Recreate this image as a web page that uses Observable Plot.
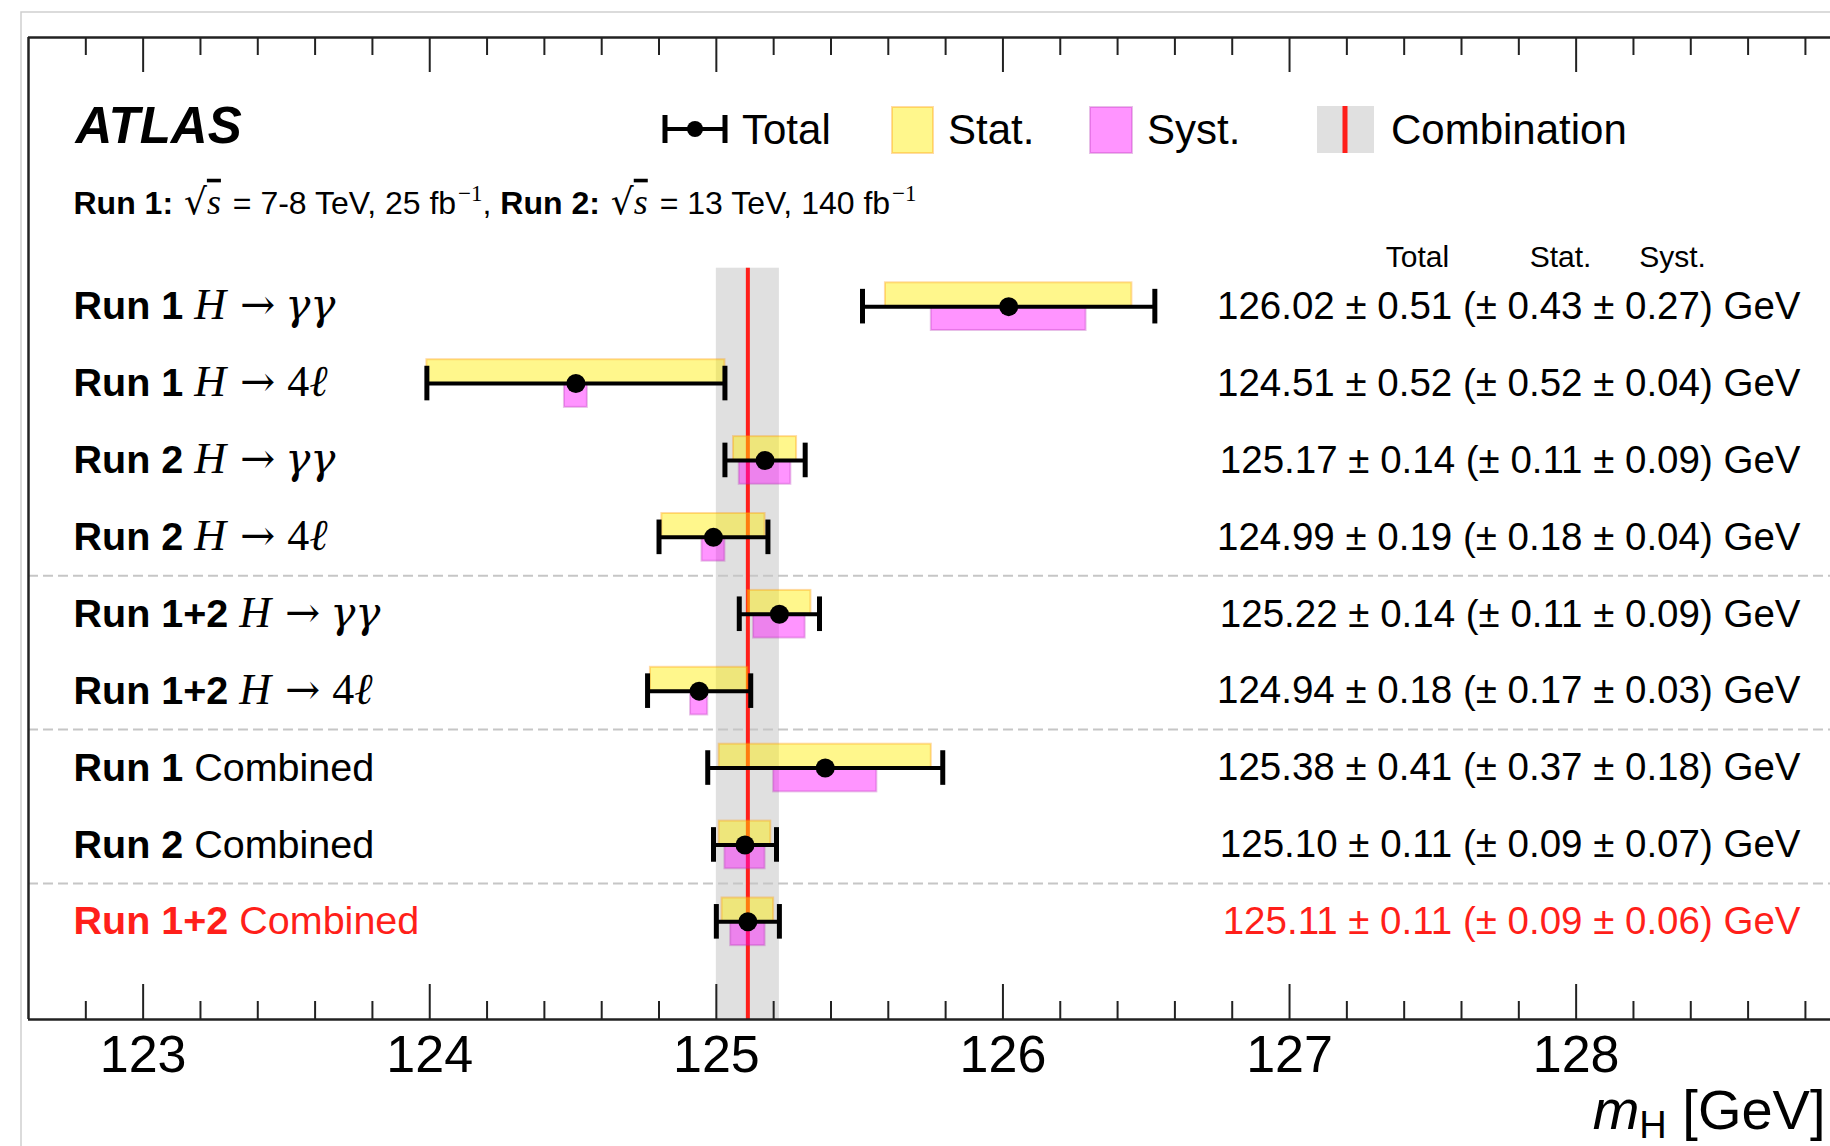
<!DOCTYPE html>
<html>
<head>
<meta charset="utf-8">
<script src="https://cdn.jsdelivr.net/npm/d3@7"></script>
<script src="https://cdn.jsdelivr.net/npm/@observablehq/plot@0.6"></script>
<style>
html, body { margin: 0; padding: 0; background: #fff; }
#chart { width: 1830px; height: 1146px; overflow: hidden; }
svg { display: block; }
</style>
</head>
<body>
<div id="chart"></div>
<script>
// ---- data ----
const runLabels = ["Run 1", "Run 1", "Run 2", "Run 2", "Run 1+2", "Run 1+2", "Run 1", "Run 2", "Run 1+2"];
const processLabels = ["H → γγ", "H → 4ℓ", "H → γγ", "H → 4ℓ", "H → γγ", "H → 4ℓ", "Combined", "Combined", "Combined"];
const massValues = [126.02, 124.51, 125.17, 124.99, 125.22, 124.94, 125.38, 125.10, 125.11];
const totalErrors = [0.51, 0.52, 0.14, 0.19, 0.14, 0.18, 0.41, 0.11, 0.11];
const statErrors = [0.43, 0.52, 0.11, 0.18, 0.11, 0.17, 0.37, 0.09, 0.09];
const systErrors = [0.27, 0.04, 0.09, 0.04, 0.09, 0.03, 0.18, 0.07, 0.06];
const sectionBreaks = [3.5, 5.5, 7.5];
const majorTicks = [123, 124, 125, 126, 127, 128];
const minorTicks = d3.range(122.8, 129.0, 0.2).filter(v => Math.abs(v - Math.round(v)) > 0.01);
const combinationIndex = 8;
const columnHeaders = ["Total", "Stat.", "Syst."];
const legendLabels = ["Total", "Stat.", "Syst.", "Combination"];

// ---- styles ----
const RED = "#ff1f1a";
const SANS = "'Liberation Sans', Arial, Helvetica, sans-serif";
const SERIF = "'Liberation Serif', 'DejaVu Serif', 'Times New Roman', serif";
const GREEK = "'DejaVu Serif', 'Liberation Serif', serif";
const ARROWFONT = "'DejaVu Serif', 'DejaVu Sans', serif";
const FRAME_H = 1019 - 37;
const SUB_KEY = "__SUBTITLE__", XLABEL_KEY = "__XLABEL__";

const rows = massValues.map((m, i) => ({
  i, run: runLabels[i], proc: processLabels[i], m,
  tot: totalErrors[i], stat: statErrors[i], syst: systErrors[i]
}));
const combo = [rows[combinationIndex]];
const yTop = -0.5, yBottom = 9.27;
const fmt = d => `${d.m.toFixed(2)} ± ${d.tot.toFixed(2)} (± ${d.stat.toFixed(2)} ± ${d.syst.toFixed(2)}) GeV`;
const labelOf = d => d.run + " " + d.proc;

const plot = Plot.plot({
  width: 1830,
  height: 1146,
  marginLeft: 28, marginRight: 0, marginTop: 37, marginBottom: 127,
  style: { fontFamily: SANS, background: "white", color: "#000", overflow: "hidden" },
  x: { domain: [122.6, 129.2], range: [28, 28 + 6.6 * 286.6] },
  y: { domain: [-3.5, yBottom], range: [37, 1019], axis: null },
  marks: [
    Plot.rect(combo, { x1: d => d.m - d.tot, x2: d => d.m + d.tot, y1: () => yTop, y2: () => yBottom, fill: "#e0e0e0" }),
    Plot.ruleY(sectionBreaks, { y: d => d, stroke: "#c6c6c6", strokeWidth: 2, strokeDasharray: "10,5" }),
    Plot.ruleX(combo, { x: "m", y1: () => yTop, y2: () => yBottom, stroke: RED, strokeWidth: 4 }),
    Plot.rect(rows, { x1: d => d.m - d.stat, x2: d => d.m + d.stat, y1: d => d.i - 0.31, y2: d => d.i,
      fill: "#ffee00", fillOpacity: 0.45, stroke: "#ff9900", strokeOpacity: 0.35, strokeWidth: 2 }),
    Plot.rect(rows, { x1: d => d.m - d.syst, x2: d => d.m + d.syst, y1: d => d.i, y2: d => d.i + 0.31,
      fill: "#ff00ff", fillOpacity: 0.42, stroke: "#b030b0", strokeOpacity: 0.3, strokeWidth: 2 }),
    Plot.ruleY(rows, { y: "i", x1: d => d.m - d.tot, x2: d => d.m + d.tot, stroke: "#000", strokeWidth: 4 }),
    Plot.ruleX(rows, { x: d => d.m - d.tot, y1: d => d.i - 0.225, y2: d => d.i + 0.225, stroke: "#000", strokeWidth: 5 }),
    Plot.ruleX(rows, { x: d => d.m + d.tot, y1: d => d.i - 0.225, y2: d => d.i + 0.225, stroke: "#000", strokeWidth: 5 }),
    Plot.dot(rows, { x: "m", y: "i", r: 9.5, fill: "#000", stroke: "none" }),
    Plot.ruleY([-3.5, yBottom], { y: d => d, stroke: "#222", strokeWidth: 2.5 }),
    Plot.ruleX([122.6], { x: d => d, stroke: "#222", strokeWidth: 2.5 }),
    Plot.ruleX(majorTicks, { x: d => d, insetBottom: FRAME_H - 35, stroke: "#222", strokeWidth: 2 }),
    Plot.ruleX(minorTicks, { x: d => d, insetBottom: FRAME_H - 18, stroke: "#222", strokeWidth: 2 }),
    Plot.ruleX(majorTicks, { x: d => d, insetTop: FRAME_H - 35, stroke: "#222", strokeWidth: 2 }),
    Plot.ruleX(minorTicks, { x: d => d, insetTop: FRAME_H - 18, stroke: "#222", strokeWidth: 2 }),
    Plot.axisX({ ticks: majorTicks, tickSize: 0, tickPadding: 16, fontSize: 52, label: null, tickFormat: d => String(d) }),
    Plot.text([XLABEL_KEY], { text: d => d, frameAnchor: "bottom-right", dx: -5, dy: 92, fontSize: 56,
      textAnchor: "end", lineAnchor: "middle" }),
    Plot.text(rows, { y: "i", text: labelOf, frameAnchor: "left", dx: 45,
      textAnchor: "start", fontSize: 39.5 }),
    Plot.text(rows.filter(d => d.i !== combinationIndex), { y: "i", text: fmt, frameAnchor: "right", dx: -30,
      textAnchor: "end", fontSize: 38.5, fill: "#000" }),
    Plot.text(combo, { y: "i", text: fmt, frameAnchor: "right", dx: -30,
      textAnchor: "end", fontSize: 38.5, fill: RED }),
    Plot.text([columnHeaders[0]], { text: d => d, frameAnchor: "top-right", dx: -413, dy: 220, fontSize: 30, textAnchor: "middle", lineAnchor: "middle" }),
    Plot.text([columnHeaders[1]], { text: d => d, frameAnchor: "top-right", dx: -270, dy: 220, fontSize: 30, textAnchor: "middle", lineAnchor: "middle" }),
    Plot.text([columnHeaders[2]], { text: d => d, frameAnchor: "top-right", dx: -158, dy: 220, fontSize: 30, textAnchor: "middle", lineAnchor: "middle" }),
    Plot.text(["ATLAS"], { text: d => d, frameAnchor: "top-left", dx: 47, dy: 89, fontSize: 51,
      fontWeight: "bold", fontStyle: "italic", textAnchor: "start", lineAnchor: "middle" }),
    Plot.text([SUB_KEY], { text: d => d, frameAnchor: "top-left", dx: 45, dy: 166, fontSize: 32,
      textAnchor: "start", lineAnchor: "middle" })
  ]
});

document.getElementById("chart").appendChild(plot);
const svg = d3.select(plot);
const allTexts = svg.selectAll("text").nodes();
const findText = s => allTexts.find(n => n.textContent === s);

rows.forEach(d => {
  const node = findText(labelOf(d));
  if (!node) return;
  const t = d3.select(node);
  t.text(null).attr("fill", d.i === combinationIndex ? RED : "#000");
  t.append("tspan").attr("font-weight", "bold").text(d.run + " ");
  if (d.proc.startsWith("H")) {
    const [h, arrow, dec] = d.proc.split(" ");
    t.append("tspan").attr("font-family", SERIF).attr("font-size", 44).attr("font-style", "italic").text(h);
    t.append("tspan").attr("font-family", ARROWFONT).attr("font-size", 42).attr("dx", 14).text(arrow);
    if (dec.startsWith("4")) {
      t.append("tspan").attr("font-family", SERIF).attr("font-size", 44).attr("dx", 12).text("4");
      t.append("tspan").attr("font-family", SERIF).attr("font-size", 44).attr("font-style", "italic").text(dec.slice(1));
    } else {
      t.append("tspan").attr("font-family", GREEK).attr("font-size", 42).attr("font-style", "italic").attr("dx", 10)
        .attr("font-weight", "normal").text(dec);
    }
  } else {
    t.append("tspan").text(d.proc);
  }
});

{
  const t = d3.select(findText(SUB_KEY)).text(null);
  const add = (txt, attrs = {}) => {
    const s = t.append("tspan").text(txt);
    for (const [k, v] of Object.entries(attrs)) s.attr(k, v);
    return s;
  };
  const sqrtS = () => {
    add("√", { "font-family": ARROWFONT, "font-size": 36, dx: 2 });
    add("s", { "font-family": SERIF, "font-size": 36, "font-style": "italic", "style": "text-decoration: overline" });
  };
  add("Run 1:", { "font-weight": "bold" });
  add(" ");
  sqrtS();
  add(" = 7-8 TeV, 25 fb", { dx: 3 });
  add("−1", { "font-size": 23, dy: -13, "font-family": SERIF, dx: 2 });
  add(", ", { dy: 13 });
  add("Run 2:", { "font-weight": "bold" });
  add(" ");
  sqrtS();
  add(" = 13 TeV, 140 fb", { dx: 3 });
  add("−1", { "font-size": 23, dy: -13, "font-family": SERIF, dx: 2 });
}

{
  const t = d3.select(findText(XLABEL_KEY)).text(null);
  t.append("tspan").attr("font-style", "italic").text("m");
  t.append("tspan").attr("font-size", 38).attr("dy", 9).text("H");
  t.append("tspan").attr("dy", -9).text(" [GeV]");
}

{
  const lg = svg.append("g").attr("font-family", SANS).attr("font-size", 42).attr("fill", "#000").attr("text-anchor", "start");
  lg.append("line").attr("x1", 665).attr("x2", 725).attr("y1", 129).attr("y2", 129).attr("stroke", "#000").attr("stroke-width", 4);
  [665, 725].forEach(x => lg.append("line").attr("x1", x).attr("x2", x).attr("y1", 115).attr("y2", 143).attr("stroke", "#000").attr("stroke-width", 5));
  lg.append("circle").attr("cx", 695).attr("cy", 129).attr("r", 8).attr("fill", "#000");
  lg.append("text").attr("x", 742).attr("y", 144).text(legendLabels[0]);
  lg.append("rect").attr("x", 892).attr("y", 107).attr("width", 41).attr("height", 46)
    .attr("fill", "#ffee00").attr("fill-opacity", 0.45).attr("stroke", "#ff9900").attr("stroke-opacity", 0.35).attr("stroke-width", 2);
  lg.append("text").attr("x", 948).attr("y", 144).text(legendLabels[1]);
  lg.append("rect").attr("x", 1090).attr("y", 107).attr("width", 42).attr("height", 46)
    .attr("fill", "#ff00ff").attr("fill-opacity", 0.42).attr("stroke", "#b030b0").attr("stroke-opacity", 0.3).attr("stroke-width", 2);
  lg.append("text").attr("x", 1147).attr("y", 144).text(legendLabels[2]);
  lg.append("rect").attr("x", 1317).attr("y", 106).attr("width", 57).attr("height", 47).attr("fill", "#e0e0e0");
  lg.append("line").attr("x1", 1345).attr("x2", 1345).attr("y1", 106).attr("y2", 153).attr("stroke", RED).attr("stroke-width", 5);
  lg.append("text").attr("x", 1391).attr("y", 144).text(legendLabels[3]);
}

svg.append("path").attr("d", "M21,1146V12H1830").attr("fill", "none").attr("stroke", "#cfcfcf").attr("stroke-width", 1.5);
</script>
</body>
</html>
